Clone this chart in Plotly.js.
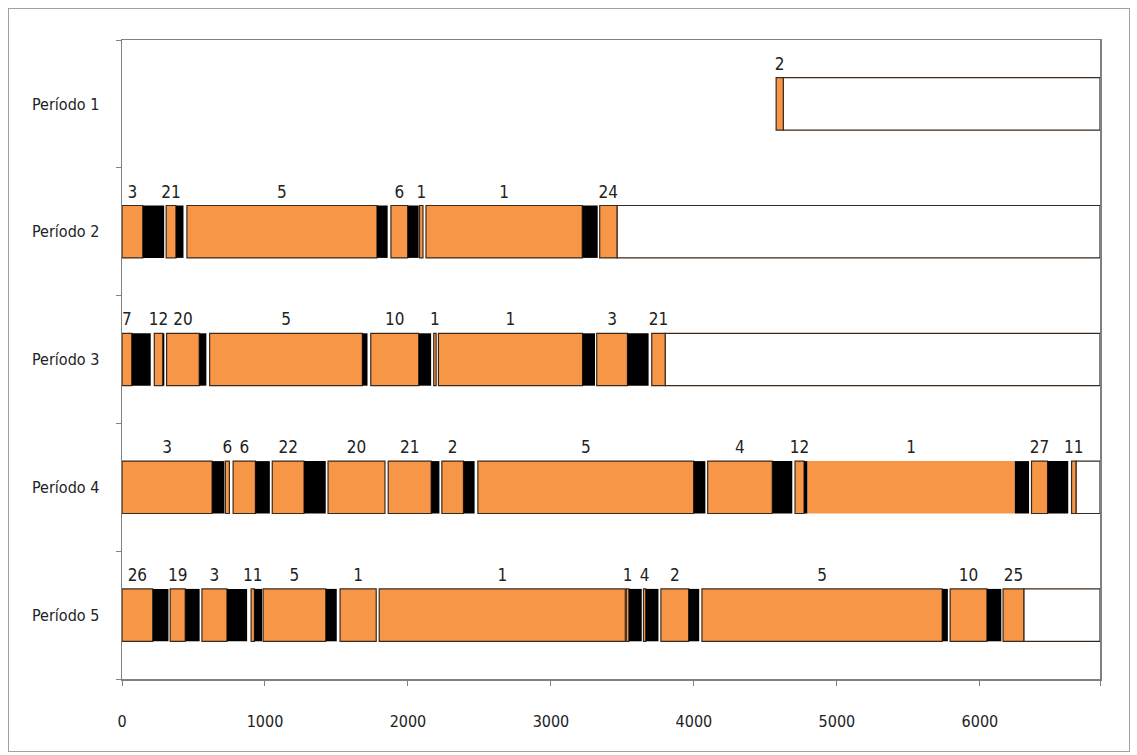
<!DOCTYPE html>
<html>
<head>
<meta charset="utf-8">
<script src="https://cdn.plot.ly/plotly-3.0.1.min.js"></script>
<style>
  body { margin: 0; background: #fff; }
  #wrap { position: relative; width: 1137px; height: 755px; }
  #chart { position: absolute; left: 0; top: 0; width: 1137px; height: 755px; }
  #frame { position: absolute; left: 8px; top: 8px; width: 1120px; height: 742px;
           border: 1px solid #a0a0a0; pointer-events: none; }
</style>
</head>
<body>
<div id="wrap"><div id="chart"></div><div id="frame"></div></div>
<script>
// ---------------- data ----------------
const categories = ['Período 1', 'Período 2', 'Período 3', 'Período 4', 'Período 5'];
const xTickValues = [0, 1000, 2000, 3000, 4000, 5000, 6000];
const axisMax = 6840;

// Período 1
const p1OrangeStart = [4575];
const p1OrangeEnd   = [4625];
const p1Labels      = ['2'];
const p1BlackStart  = [];
const p1BlackEnd    = [];

// Período 2
const p2OrangeStart = [0,   309, 454,  1881, 2081, 2126, 3341];
const p2OrangeEnd   = [145, 377, 1783, 1998, 2105, 3219, 3462];
const p2Labels      = ['3', '21', '5', '6', '1', '1', '24'];
const p2BlackStart  = [145, 377, 1783, 1998, 3219];
const p2BlackEnd    = [295, 430, 1858, 2075, 3327];

// Período 3
const p3OrangeStart = [0,  226, 312, 613,  1740, 2180, 2213, 3320, 3705];
const p3OrangeEnd   = [68, 285, 540, 1681, 2075, 2197, 3221, 3535, 3799];
const p3Labels      = ['7', '12', '20', '5', '10', '1', '1', '3', '21'];
const p3BlackStart  = [68,  285, 540, 1681, 2075, 3221, 3535];
const p3BlackEnd    = [201, 296, 590, 1717, 2162, 3308, 3683];

// Período 4
const p4OrangeStart = [0,   723, 777, 1051, 1441, 1862, 2237, 2489, 4096, 4707, 4793, 6361, 6641];
const p4OrangeEnd   = [630, 751, 933, 1273, 1839, 2162, 2388, 3998, 4548, 4770, 6244, 6473, 6672];
const p4Labels      = ['3', '6', '6', '22', '20', '21', '2', '5', '4', '12', '1', '27', '11'];
const p4BlackStart  = [630, 933,  1273, 2162, 2388, 3998, 4548, 4770, 6244, 6473];
const p4BlackEnd    = [716, 1034, 1425, 2220, 2466, 4080, 4688, 4793, 6344, 6618];

// Período 5
const p5OrangeStart = [0,   337, 559, 903, 987,  1525, 1799, 3527, 3647, 3769, 4056, 5792, 6162];
const p5OrangeEnd   = [215, 442, 734, 926, 1425, 1778, 3520, 3545, 3663, 3963, 5736, 6049, 6307];
const p5Labels      = ['26', '19', '3', '11', '5', '1', '1', '1', '4', '2', '5', '10', '25'];
const p5BlackStart  = [215, 442, 734, 926, 1425, 3545, 3663, 3963, 5736, 6049];
const p5BlackEnd    = [325, 543, 875, 980, 1502, 3635, 3752, 4037, 5776, 6150];

// ---------------- styling ----------------
const orangeColor = '#F79646';
const outlineColor = '#3a2a1e';
const labelFont = 'Liberation Sans Narrow, DejaVu Sans Condensed, Liberation Sans, Arial, sans-serif';
const noOutline = { row: 4, index: 10 };   // the long "1" segment of Período 4 has no outline
const barWidth = 0.41;
const labelOffset = 0.3;

const rows = [
  { os: p1OrangeStart, oe: p1OrangeEnd, lab: p1Labels, bs: p1BlackStart, be: p1BlackEnd },
  { os: p2OrangeStart, oe: p2OrangeEnd, lab: p2Labels, bs: p2BlackStart, be: p2BlackEnd },
  { os: p3OrangeStart, oe: p3OrangeEnd, lab: p3Labels, bs: p3BlackStart, be: p3BlackEnd },
  { os: p4OrangeStart, oe: p4OrangeEnd, lab: p4Labels, bs: p4BlackStart, be: p4BlackEnd },
  { os: p5OrangeStart, oe: p5OrangeEnd, lab: p5Labels, bs: p5BlackStart, be: p5BlackEnd }
];

const oY = [], oBase = [], oLen = [], oLineW = [];
const bY = [], bBase = [], bLen = [];
const wY = [], wBase = [], wLen = [];
const tX = [], tY = [], tText = [];

rows.forEach((r, i) => {
  const yv = i + 1;
  let last = 0;
  r.os.forEach((s, j) => {
    oY.push(yv); oBase.push(s); oLen.push(r.oe[j] - s);
    oLineW.push((noOutline.row === yv && noOutline.index === j) ? 0 : 1.2);
    tX.push((s + r.oe[j]) / 2); tY.push(yv - labelOffset); tText.push(r.lab[j]);
    last = Math.max(last, r.oe[j]);
  });
  r.bs.forEach((s, j) => {
    bY.push(yv); bBase.push(s); bLen.push(r.be[j] - s);
    last = Math.max(last, r.be[j]);
  });
  wY.push(yv); wBase.push(last); wLen.push(axisMax - last);
});

const traces = [
  { type: 'bar', orientation: 'h', y: wY, base: wBase, x: wLen, width: barWidth,
    marker: { color: '#ffffff', line: { color: outlineColor, width: 1.2 } },
    hoverinfo: 'skip', showlegend: false },
  { type: 'bar', orientation: 'h', y: oY, base: oBase, x: oLen, width: barWidth,
    marker: { color: orangeColor, line: { color: outlineColor, width: oLineW } },
    hoverinfo: 'skip', showlegend: false },
  { type: 'bar', orientation: 'h', y: bY, base: bBase, x: bLen, width: barWidth,
    marker: { color: '#000000', line: { width: 0 } },
    hoverinfo: 'skip', showlegend: false },
  { type: 'scatter', mode: 'text', x: tX, y: tY, text: tText,
    textposition: 'middle center',
    textfont: { family: labelFont, size: 17, color: '#222' },
    hoverinfo: 'skip', showlegend: false, cliponaxis: false }
];

const layout = {
  width: 1137, height: 755,
  margin: { l: 122, r: 37, t: 40, b: 76 },
  paper_bgcolor: '#ffffff', plot_bgcolor: '#ffffff',
  barmode: 'overlay',
  font: { family: labelFont, size: 16, color: '#222' },
  xaxis: {
    range: [0, axisMax],
    tickvals: xTickValues.concat([axisMax]),
    ticktext: xTickValues.map(String).concat(['']),
    ticks: 'outside', ticklen: 5, tickcolor: '#808080',
    showline: true, linecolor: '#808080', linewidth: 1.5,
    mirror: true, showgrid: false, zeroline: false,
    ticklabelstandoff: 22,
    tickfont: { family: labelFont, size: 16, color: '#222' }
  },
  yaxis: {
    range: [5.5, 0.5],
    tickvals: [1, 2, 3, 4, 5], ticktext: categories,
    ticks: '', showline: true, linecolor: '#808080', linewidth: 1.5,
    mirror: true, showgrid: false, zeroline: false,
    ticklabelstandoff: 18,
    minor: { ticks: 'outside', tickvals: [0.5, 1.5, 2.5, 3.5, 4.5, 5.5], ticklen: 5, tickcolor: '#808080', showgrid: false },
    tickfont: { family: labelFont, size: 16, color: '#222' }
  },
  showlegend: false
};

Plotly.newPlot('chart', traces, layout, { displayModeBar: false, staticPlot: true });
</script>
</body>
</html>
